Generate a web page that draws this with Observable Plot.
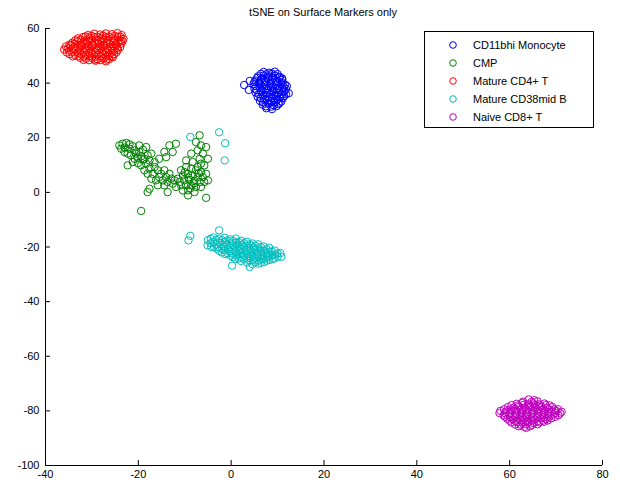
<!DOCTYPE html>
<html>
<head>
<meta charset="utf-8">
<script src="https://cdn.jsdelivr.net/npm/d3@7"></script>
<script src="https://cdn.jsdelivr.net/npm/@observablehq/plot@0.6"></script>
<style>
  html, body { margin: 0; padding: 0; background: #fff; }
  #wrap { position: relative; width: 620px; height: 484px; font-family: "Liberation Sans", Arial, sans-serif; }
  #title { height: 20px; line-height: 24px; font-size: 11px; text-align: center; padding-left: 26px; box-sizing: border-box; color: #000; }
  #legend { position: absolute; left: 424px; top: 31px; width: 170px; height: 97px; box-sizing: border-box;
            border: 1px solid #000; background: #fff; padding-top: 4px; font-size: 11px; }
  .row { height: 18px; display: flex; align-items: center; }
  .row svg { margin-left: 23px; margin-right: 15px; }
</style>
</head>
<body>
<div id="wrap">
  <div id="title"></div>
  <div id="chart"></div>
  <div id="legend"></div>
</div>
<script>
const title = "tSNE on Surface Markers only";
const categories = ["CD11bhi Monocyte", "CMP", "Mature CD4+ T", "Mature CD38mid B", "Naive CD8+ T"];
const colors = ["#0000ff", "#008000", "#ff0000", "#00bfbf", "#bf00bf"];
const xDomain = [-40, 80];
const yDomain = [-100, 60];
const xTicks = [-40, -20, 0, 20, 40, 60, 80];
const yTicks = [-100, -80, -60, -40, -20, 0, 20, 40, 60];

const monocyte = [
[7.0,44.1],[8.2,43.8],[9.4,44.2],
[5.8,42.5],[7.0,42.8],[8.2,42.4],[9.4,42.8],[10.5,42.3],
[5.2,41.0],[6.4,41.3],[7.6,40.9],[8.8,41.3],[10.0,40.8],[11.0,41.2],
[4.8,39.6],[6.0,39.9],[7.2,39.4],[8.4,39.8],[9.6,39.3],[10.8,39.7],[11.6,39.5],
[5.0,38.0],[6.2,38.3],[7.4,37.9],[8.6,38.3],[9.8,37.8],[11.0,38.2],[11.8,37.8],
[5.3,36.5],[6.5,36.8],[7.7,36.4],[8.9,36.8],[10.1,36.3],[11.3,36.7],
[5.7,35.0],[6.9,35.3],[8.1,34.9],[9.3,35.3],[10.5,34.8],[11.4,35.2],
[6.2,33.5],[7.4,33.8],[8.6,33.4],[9.8,33.8],[10.8,33.3],
[6.8,32.1],[8.0,32.4],[9.2,31.9],[10.2,32.3],
[7.6,30.8],[8.8,30.5],
[6.4,43.4],[7.6,43.3],[8.8,43.5],[10.0,43.3],
[5.6,41.9],[6.7,41.8],[7.9,42.0],[9.1,41.8],[10.3,42.0],[11.0,41.7],
[5.0,40.4],[6.1,40.3],[7.3,40.5],[8.5,40.3],[9.7,40.5],[10.9,40.3],
[5.4,38.9],[6.6,38.8],[7.8,39.0],[9.0,38.8],[10.2,39.0],[11.3,38.8],[12.0,38.9],
[5.5,37.4],[6.7,37.3],[7.9,37.5],[9.1,37.3],[10.3,37.5],[11.5,37.3],
[6.0,35.9],[7.2,35.8],[8.4,36.0],[9.6,35.8],[10.8,36.0],[11.8,35.9],
[6.4,34.4],[7.6,34.3],[8.8,34.5],[10.0,34.3],[11.1,34.5],
[6.9,32.9],[8.1,32.8],[9.3,33.0],[10.4,32.8],
[7.5,31.5],[8.7,31.4],[9.8,31.6],
[2.8,39.3],[3.8,37.5],[12.4,36.3],[4.0,40.8]
];

const cmp = [
[-24.1,17.2],[-23.4,17.8],[-22.6,18.1],[-21.9,17.6],[-23.7,16.0],[-22.9,16.4],[-21.9,16.0],[-21.2,16.9],
[-20.8,15.4],[-23.0,14.8],[-22.3,14.2],[-21.6,13.6],[-20.5,14.2],[-19.8,14.8],[-20.8,12.3],[-20.1,12.7],
[-19.4,13.2],[-19.0,12.0],[-21.2,11.1],[-20.1,10.7],[-19.4,9.9],[-18.3,10.5],[-18.7,12.3],[-18.0,13.6],
[-17.2,14.2],[-18.3,16.6],[-19.8,17.2],[-19.0,15.6],[-17.6,11.7],[-22.3,9.9],
[-17.6,8.7],[-16.5,9.3],[-15.8,8.1],[-16.9,6.8],[-15.1,6.8],[-14.4,8.1],[-15.5,5.6],[-14.0,5.6],
[-13.3,6.8],[-12.9,5.0],[-14.7,4.4],[-16.2,4.4],[-17.2,5.0],[-13.7,3.8],[-12.2,4.4],[-18.0,6.8],
[-18.7,8.1],[-12.6,3.2],[-11.5,5.0],[-15.8,2.6],[-17.6,1.3],[-14.4,2.6],
[-10.8,8.1],[-9.7,9.3],[-8.6,8.7],[-7.6,8.1],[-6.5,7.4],[-10.4,6.2],[-9.3,6.8],[-8.3,6.2],
[-7.2,5.6],[-6.1,5.6],[-5.4,6.8],[-10.1,4.4],[-9.0,4.6],[-7.9,4.2],[-6.8,3.8],[-5.8,3.8],
[-10.8,2.6],[-9.7,2.6],[-8.6,2.6],[-7.6,2.0],[-6.5,2.0],[-9.3,0.7],[-7.9,0.1],[-10.4,0.7],
[-5.0,4.4],[-11.1,3.8],[-11.9,2.0],[-6.5,10.5],[-7.2,9.3],
[-9.2,5.5],[-8.0,3.3],[-7.0,7.0],[-10.0,7.4],[-8.8,1.5],
[-6.8,20.9],[-7.6,18.4],[-6.5,17.2],[-5.4,16.6],[-7.2,15.4],[-6.1,14.2],[-5.0,12.3],[-6.8,12.3],
[-8.3,11.1],[-5.8,9.9],[-8.6,14.2],[-9.7,11.7],
[-13.3,17.2],[-11.9,17.8],[-14.4,14.8],[-12.6,14.8],[-14.0,12.9],[-16.5,11.1],[-15.5,12.3],
[-19.4,-6.8],[-5.4,-2.0],[-9.3,-1.1],[-18.0,0.1],[-13.7,0.1]
];

const cd4 = [
[-30.8,57.6],[-29.5,58.1],[-28.2,57.8],[-27.0,58.2],[-25.7,57.9],[-24.5,58.3],[-23.6,57.6],
[-33.0,56.4],[-31.9,56.9],[-30.6,56.5],[-29.4,56.8],[-28.1,56.3],[-26.9,56.7],[-25.6,56.4],[-24.4,56.9],[-23.2,56.2],
[-34.2,54.8],[-33.1,55.3],[-31.8,55.0],[-30.5,55.4],[-29.3,54.9],[-28.0,55.2],[-26.8,54.8],[-25.5,55.3],[-24.3,54.9],[-23.4,55.4],
[-35.6,53.4],[-34.5,53.8],[-33.3,53.3],[-32.1,53.7],[-30.9,53.5],[-29.7,53.9],[-28.5,53.4],[-27.3,53.7],[-26.0,53.3],[-24.8,53.8],[-23.9,53.2],
[-36.0,52.3],[-34.9,51.9],[-33.7,52.4],[-32.5,52.0],[-31.3,52.3],[-30.1,51.8],[-28.9,52.2],[-27.7,51.9],[-26.5,52.4],[-25.3,51.8],[-24.4,52.2],
[-34.8,50.6],[-33.6,50.2],[-32.4,50.7],[-31.2,50.3],[-30.0,50.8],[-28.8,50.4],[-27.6,50.7],[-26.4,50.2],[-25.2,50.6],
[-32.6,49.3],[-31.3,48.9],[-30.0,49.2],[-28.8,48.7],[-27.5,49.1],[-26.3,48.8],[-25.5,49.5],
[-29.2,48.2],[-27.0,48.0],
[-31.4,57.1],[-30.1,57.3],[-28.8,57.0],[-27.6,57.4],[-26.3,57.1],[-25.1,57.3],[-23.9,57.0],
[-33.6,55.7],[-32.4,55.9],[-31.2,55.6],[-30.0,55.9],[-28.7,55.6],[-27.5,55.9],[-26.2,55.6],[-25.0,55.8],[-23.8,55.6],
[-34.8,54.1],[-33.7,54.4],[-32.4,54.1],[-31.2,54.3],[-29.9,54.1],[-28.6,54.4],[-27.4,54.1],[-26.1,54.3],[-24.9,54.1],[-23.7,54.4],
[-35.2,52.7],[-34.0,53.0],[-32.7,52.7],[-31.6,52.9],[-30.4,52.6],[-29.2,52.9],[-28.0,52.7],[-26.8,52.9],[-25.6,52.6],[-24.5,52.9],
[-35.4,51.2],[-34.2,51.4],[-33.0,51.1],[-31.8,51.4],[-30.6,51.1],[-29.4,51.3],[-28.2,51.1],[-27.0,51.3],[-25.8,51.1],[-24.7,51.3],
[-34.1,49.8],[-32.9,50.0],[-31.7,49.7],[-30.5,49.9],[-29.3,49.7],[-28.1,49.9],[-26.9,49.7],[-25.7,49.9],
[-31.8,48.5],[-30.6,48.4],[-29.4,48.6],[-28.1,48.4],[-26.8,48.6]
];

const cd38 = [
[-5.0,-17.5],[-5.1,-19.4],
[-3.8,-16.5],[-3.9,-18.2],[-3.7,-19.9],
[-2.6,-16.9],[-2.5,-18.5],[-2.7,-20.1],[-2.6,-21.4],
[-1.4,-16.6],[-1.3,-18.1],[-1.5,-19.7],[-1.4,-21.2],[-1.3,-22.6],
[-0.2,-17.2],[-0.1,-18.7],[-0.3,-20.2],[-0.2,-21.7],[-0.1,-23.2],
[1.0,-16.9],[1.1,-18.4],[0.9,-19.9],[1.0,-21.4],[1.1,-22.9],[0.9,-24.4],
[2.2,-17.7],[2.3,-19.2],[2.1,-20.7],[2.2,-22.2],[2.3,-23.7],[2.1,-25.1],
[3.4,-18.1],[3.5,-19.6],[3.3,-21.1],[3.4,-22.6],[3.5,-24.1],[3.4,-25.7],
[4.6,-18.7],[4.7,-20.2],[4.5,-21.7],[4.6,-23.2],[4.7,-24.7],[4.6,-26.3],
[5.8,-19.0],[5.9,-20.5],[5.7,-22.0],[5.8,-23.5],[5.9,-25.0],[5.8,-26.1],
[7.0,-19.8],[7.1,-21.3],[6.9,-22.8],[7.0,-24.3],[7.1,-25.5],
[8.2,-20.3],[8.3,-21.8],[8.1,-23.3],[8.2,-24.8],
[9.4,-21.3],[9.5,-22.8],[9.3,-24.2],
[10.6,-22.2],[10.8,-23.6],
[-4.4,-17.0],[-4.4,-18.6],[-4.3,-20.0],
[-3.2,-17.4],[-3.2,-19.0],[-3.1,-20.6],
[-2.0,-17.5],[-2.0,-19.1],[-1.9,-20.7],[-2.0,-22.0],
[-0.8,-17.6],[-0.8,-19.2],[-0.7,-20.8],[-0.8,-22.3],
[0.4,-17.8],[0.4,-19.4],[0.5,-20.9],[0.4,-22.4],[0.4,-23.8],
[1.6,-18.2],[1.6,-19.7],[1.7,-21.2],[1.6,-22.7],[1.6,-24.2],
[2.8,-18.6],[2.8,-20.1],[2.9,-21.6],[2.8,-23.1],[2.8,-24.6],
[4.0,-19.0],[4.0,-20.5],[4.1,-22.0],[4.0,-23.5],[4.0,-25.0],
[5.2,-19.5],[5.2,-21.0],[5.3,-22.5],[5.2,-24.0],[5.2,-25.5],
[6.4,-20.0],[6.4,-21.5],[6.5,-23.0],[6.4,-24.5],[6.4,-25.8],
[7.6,-20.8],[7.6,-22.3],[7.7,-23.8],[7.6,-25.0],
[8.8,-21.6],[8.8,-23.1],[8.9,-24.4],
[10.0,-22.3],[10.0,-23.6],
[-2.6,-13.9],[0.2,-26.8],[4.0,-27.3],
[-9.2,-17.6],[-8.8,-15.9],
[-8.8,20.3],[-2.6,22.0],[-1.3,18.0],[-1.4,11.7]
];

const cd8 = [
[64.1,-75.8],[65.3,-76.1],
[61.5,-77.4],[62.7,-77.1],[63.9,-77.5],[65.1,-77.2],[66.3,-77.6],[67.5,-77.3],
[59.6,-78.6],[60.8,-78.9],[62.0,-78.5],[63.2,-78.8],[64.4,-78.6],[65.6,-78.9],[66.8,-78.5],[68.0,-78.8],[69.2,-78.6],
[58.0,-80.0],[59.2,-80.3],[60.4,-79.9],[61.6,-80.2],[62.8,-80.0],[64.0,-80.3],[65.2,-79.9],[66.4,-80.2],[67.6,-80.0],[68.8,-80.3],[70.0,-80.0],[71.2,-80.3],
[58.7,-81.6],[59.9,-81.3],[61.1,-81.7],[62.3,-81.4],[63.5,-81.6],[64.7,-81.3],[65.9,-81.7],[67.1,-81.4],[68.3,-81.6],[69.5,-81.3],[70.5,-81.6],
[59.5,-82.9],[60.7,-83.1],[61.9,-82.8],[63.1,-83.0],[64.3,-82.8],[65.5,-83.1],[66.7,-82.8],[67.9,-83.0],[69.0,-82.7],
[60.4,-84.3],[61.6,-84.1],[62.8,-84.4],[64.0,-84.2],[65.2,-84.5],[66.4,-84.2],[67.4,-84.0],
[62.0,-85.6],[63.2,-85.9],[64.4,-85.6],
[62.9,-76.6],[64.7,-76.7],[66.0,-76.5],
[60.4,-77.9],[61.8,-78.0],[63.0,-77.8],[64.2,-78.0],[65.4,-77.9],[66.6,-78.1],[67.8,-77.9],[68.6,-78.0],
[58.8,-79.4],[60.0,-79.5],[61.2,-79.3],[62.4,-79.5],[63.6,-79.4],[64.8,-79.6],[66.0,-79.4],[67.2,-79.5],[68.4,-79.3],[69.6,-79.5],[70.4,-79.4],
[57.8,-80.8],[59.0,-80.9],[60.2,-80.7],[61.4,-80.9],[62.6,-80.8],[63.8,-81.0],[65.0,-80.8],[66.2,-80.9],[67.4,-80.7],[68.6,-80.9],[69.8,-80.8],[70.9,-80.9],
[59.0,-82.2],[60.2,-82.3],[61.4,-82.1],[62.6,-82.3],[63.8,-82.2],[65.0,-82.4],[66.2,-82.2],[67.4,-82.3],[68.6,-82.1],[69.8,-82.2],
[60.0,-83.6],[61.2,-83.7],[62.4,-83.5],[63.6,-83.7],[64.8,-83.6],[66.0,-83.8],[67.2,-83.6],[68.2,-83.5],
[61.2,-85.0],[62.4,-85.1],[63.6,-84.9],[64.8,-85.1],[66.0,-84.9],
[63.6,-86.2]
];

const groups = [monocyte, cmp, cd4, cd38, cd8];
const points = groups.flatMap((pts, i) => pts.map(([x, y]) => ({x, y, group: categories[i]})));

document.getElementById("title").textContent = title;

const W = 620, H = 464, mL = 45, mR = 18, mT = 8, mB = 19;
const tickLen = 5;

const chart = Plot.plot({
  width: W,
  height: H,
  marginLeft: mL,
  marginRight: mR,
  marginTop: mT,
  marginBottom: mB,
  style: {fontFamily: "'Liberation Sans', Arial, sans-serif", fontSize: "11px", color: "#000", background: "#fff"},
  x: {domain: xDomain, label: null},
  y: {domain: yDomain, label: null},
  color: {domain: categories, range: colors},
  marks: [
    Plot.ruleX([xDomain[0]], {stroke: "#000", strokeWidth: 1}),
    Plot.ruleY([yDomain[0]], {stroke: "#000", strokeWidth: 1}),
    Plot.tickX(xTicks, {x: d => d, stroke: "#000", insetTop: H - mT - mB - tickLen}),
    Plot.tickY(yTicks, {y: d => d, stroke: "#000", insetRight: W - mL - mR - tickLen}),
    Plot.axisX(xTicks, {tickSize: 0, tickPadding: 5, tickFormat: d => String(d), fill: "#000", label: null}),
    Plot.axisY(yTicks, {tickSize: 0, tickPadding: 6, tickFormat: d => String(d), fill: "#000", label: null}),
    Plot.dot(points, {x: "x", y: "y", stroke: "group", r: 3.7, strokeWidth: 1, fill: "none"})
  ]
});
document.getElementById("chart").appendChild(chart);

const legend = d3.select("#legend");
categories.forEach((c, i) => {
  const row = legend.append("div").attr("class", "row");
  const s = row.append("svg").attr("width", 10).attr("height", 10);
  s.append("circle").attr("cx", 5).attr("cy", 5).attr("r", 3.3).attr("fill", "none").attr("stroke", colors[i]).attr("stroke-width", 1);
  row.append("span").text(c);
});
</script>
</body>
</html>
